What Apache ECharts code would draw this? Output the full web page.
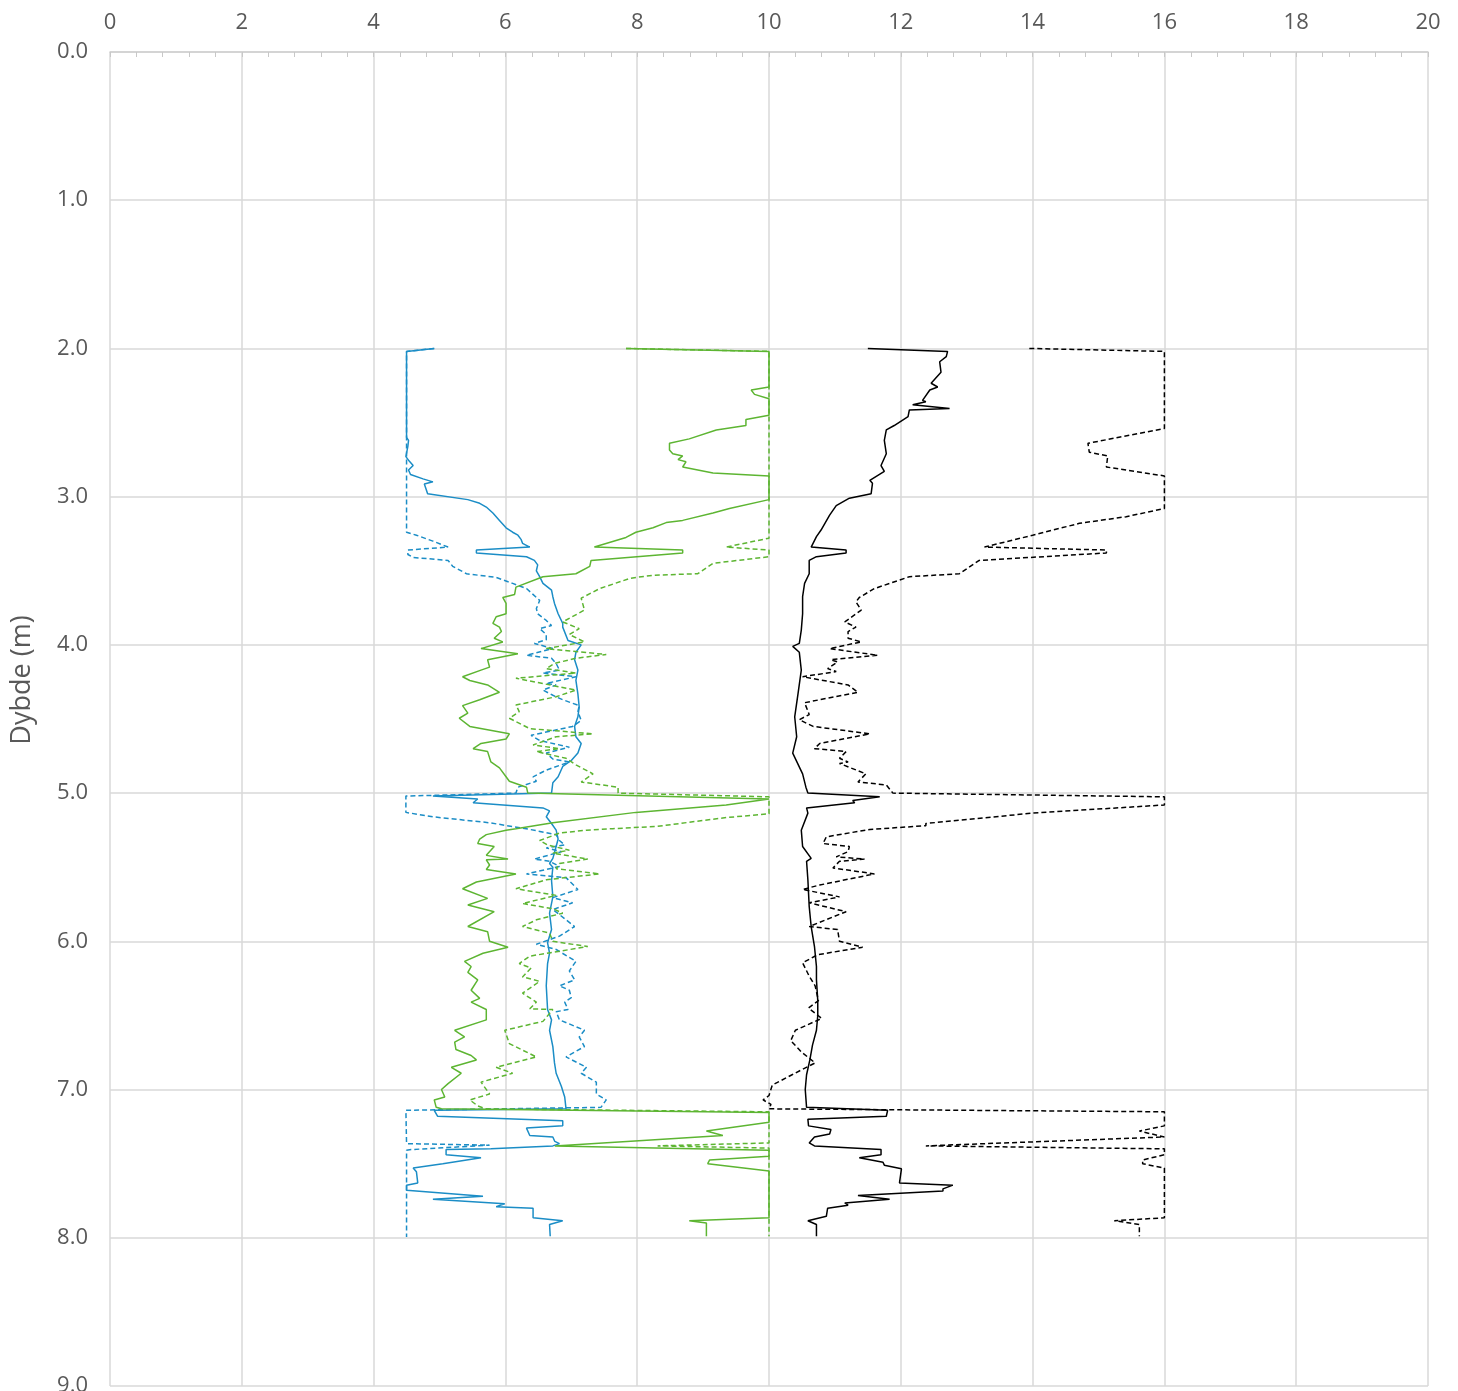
<!DOCTYPE html>
<html>
<head>
<meta charset="utf-8">
<script src="https://cdn.jsdelivr.net/npm/echarts@6/dist/echarts.min.js"></script>
<style>
  html, body { margin: 0; padding: 0; background: #fff; }
  #chart { width: 1458px; height: 1391px; }
</style>
</head>
<body>
<div id="chart"></div>
<script>
// [verdi, dybde] par for hver kurve
var blueSolid = [[4.92,2.00],[4.50,2.02],[4.50,2.60],[4.53,2.62],[4.52,2.66],[4.49,2.73],[4.54,2.76],[4.60,2.79],[4.53,2.82],[4.56,2.85],[4.75,2.88],[4.90,2.90],[4.77,2.915],[4.82,2.98],[4.85,2.99],[5.43,3.02],[5.61,3.045],[5.71,3.07],[5.81,3.11],[5.91,3.16],[6.01,3.21],[6.11,3.24],[6.19,3.26],[6.24,3.29],[6.26,3.315],[6.37,3.34],[5.56,3.36],[5.56,3.38],[6.32,3.405],[6.44,3.43],[6.49,3.46],[6.47,3.50],[6.52,3.54],[6.57,3.585],[6.70,3.63],[6.72,3.675],[6.745,3.72],[6.80,3.79],[6.87,3.855],[6.87,3.88],[6.95,3.97],[7.15,4.00],[7.07,4.05],[7.05,4.10],[7.10,4.17],[7.07,4.24],[7.10,4.33],[7.12,4.42],[7.10,4.485],[7.05,4.55],[7.07,4.62],[7.15,4.665],[7.10,4.73],[7.00,4.78],[6.87,4.82],[6.80,4.89],[6.72,4.93],[6.70,5.00],[4.90,5.02],[5.58,5.04],[5.51,5.065],[6.57,5.10],[6.67,5.12],[6.62,5.16],[6.70,5.205],[6.77,5.25],[6.80,5.31],[6.77,5.36],[6.72,5.44],[6.67,5.475],[6.72,5.50],[6.70,5.59],[6.72,5.70],[6.67,5.81],[6.70,5.92],[6.64,6.01],[6.67,6.08],[6.64,6.15],[6.62,6.30],[6.64,6.46],[6.70,6.53],[6.67,6.60],[6.72,6.71],[6.745,6.82],[6.77,6.89],[6.85,6.98],[6.90,7.05],[6.92,7.13],[4.92,7.14],[4.97,7.18],[6.87,7.21],[6.87,7.245],[6.32,7.26],[6.37,7.31],[6.72,7.32],[6.75,7.35],[6.82,7.365],[6.72,7.38],[5.78,7.40],[5.10,7.405],[5.10,7.44],[5.63,7.46],[5.05,7.50],[4.60,7.53],[4.65,7.555],[4.67,7.63],[4.50,7.645],[4.50,7.68],[5.66,7.72],[4.90,7.74],[5.99,7.77],[5.86,7.79],[6.42,7.80],[6.42,7.865],[6.87,7.885],[6.67,7.91],[6.68,7.99]];

var blueDashed = [[4.92,2.00],[4.50,2.02],[4.50,3.24],[4.65,3.26],[4.90,3.30],[5.13,3.34],[4.52,3.36],[4.52,3.39],[4.60,3.41],[5.13,3.43],[5.20,3.47],[5.41,3.52],[5.86,3.545],[6.11,3.585],[6.32,3.62],[6.52,3.70],[6.47,3.755],[6.49,3.79],[6.62,3.835],[6.70,3.87],[6.52,3.89],[6.62,3.93],[6.62,3.965],[6.44,3.99],[6.72,4.025],[6.32,4.07],[6.70,4.09],[6.77,4.125],[6.82,4.17],[6.57,4.19],[7.07,4.215],[6.62,4.26],[6.77,4.27],[6.57,4.305],[6.72,4.34],[6.87,4.37],[7.12,4.41],[7.10,4.45],[7.15,4.51],[7.02,4.55],[6.39,4.61],[6.52,4.645],[6.97,4.69],[6.62,4.73],[6.72,4.77],[6.97,4.79],[6.62,4.845],[6.42,4.89],[6.47,4.92],[6.19,4.96],[6.16,5.00],[4.49,5.02],[4.49,5.13],[4.90,5.16],[5.76,5.20],[6.37,5.245],[6.77,5.28],[6.82,5.32],[6.90,5.35],[6.62,5.37],[6.85,5.395],[6.44,5.445],[6.67,5.46],[6.82,5.495],[6.32,5.545],[6.92,5.57],[7.10,5.65],[6.72,5.705],[7.02,5.74],[6.72,5.785],[7.05,5.90],[6.82,5.965],[6.47,6.02],[6.77,6.055],[7.07,6.135],[6.97,6.20],[7.05,6.26],[6.82,6.30],[6.97,6.33],[7.00,6.38],[6.90,6.41],[6.95,6.46],[6.77,6.475],[6.82,6.53],[7.20,6.60],[7.12,6.645],[7.20,6.71],[6.92,6.78],[7.23,6.85],[7.15,6.89],[7.38,6.95],[7.38,7.03],[7.53,7.07],[7.45,7.12],[7.43,7.13],[4.49,7.14],[4.50,7.365],[5.76,7.375],[4.57,7.405],[4.50,7.41],[4.50,7.995]];

var greenSolid = [[7.83,2.00],[10,2.02],[10,2.26],[9.73,2.28],[9.78,2.31],[10,2.34],[10,2.45],[9.65,2.48],[9.65,2.52],[9.20,2.55],[8.79,2.61],[8.49,2.64],[8.49,2.685],[8.54,2.71],[8.69,2.725],[8.62,2.75],[8.74,2.765],[8.69,2.80],[9.15,2.84],[10,2.86],[10,3.02],[9.40,3.08],[9.15,3.11],[8.69,3.16],[8.44,3.175],[8.24,3.21],[7.98,3.24],[7.83,3.275],[7.35,3.34],[8.69,3.36],[8.69,3.38],[7.30,3.43],[7.28,3.47],[7.07,3.52],[6.57,3.54],[6.16,3.61],[6.14,3.66],[5.96,3.68],[6.01,3.72],[6.01,3.79],[5.86,3.81],[5.81,3.855],[5.91,3.88],[5.94,3.91],[5.83,3.955],[5.96,3.98],[5.63,4.025],[6.19,4.06],[5.73,4.10],[5.76,4.15],[5.63,4.17],[5.35,4.215],[5.46,4.24],[5.73,4.27],[5.91,4.32],[5.61,4.37],[5.35,4.41],[5.43,4.46],[5.30,4.495],[5.46,4.55],[6.06,4.60],[6.01,4.635],[5.63,4.665],[5.51,4.70],[5.73,4.72],[5.78,4.79],[5.91,4.83],[6.01,4.89],[6.06,4.92],[6.32,4.96],[6.34,5.00],[10,5.04],[9.35,5.08],[7.98,5.13],[6.72,5.20],[6.16,5.24],[6.01,5.25],[5.71,5.28],[5.61,5.31],[5.58,5.34],[5.83,5.36],[5.71,5.42],[6.04,5.445],[5.71,5.45],[5.76,5.485],[5.71,5.515],[6.16,5.545],[5.56,5.60],[5.35,5.645],[5.73,5.71],[5.43,5.755],[5.83,5.80],[5.43,5.90],[5.73,5.935],[5.76,6.00],[6.04,6.04],[5.66,6.08],[5.38,6.135],[5.48,6.17],[5.43,6.21],[5.58,6.26],[5.48,6.33],[5.61,6.385],[5.48,6.41],[5.71,6.46],[5.71,6.53],[5.23,6.60],[5.38,6.645],[5.23,6.68],[5.25,6.73],[5.48,6.77],[5.56,6.80],[5.18,6.85],[5.33,6.89],[5.13,6.96],[5.03,7.00],[5.08,7.05],[4.92,7.07],[4.95,7.12],[5.03,7.13],[10,7.155],[10,7.22],[9.05,7.28],[9.30,7.31],[6.75,7.38],[10,7.41],[10,7.45],[9.10,7.475],[9.07,7.50],[10,7.55],[10,7.865],[8.79,7.885],[9.05,7.90],[9.05,7.99]];

var greenDashed = [[7.83,2.00],[10,2.02],[10,3.28],[9.35,3.34],[10,3.36],[10,3.405],[9.15,3.45],[8.92,3.52],[8.24,3.53],[7.90,3.55],[7.43,3.62],[7.15,3.685],[7.20,3.765],[6.87,3.845],[7.12,3.89],[6.97,3.93],[7.20,3.98],[6.62,4.025],[7.53,4.065],[7.07,4.09],[6.745,4.125],[6.62,4.16],[7.07,4.19],[6.16,4.225],[7.07,4.305],[6.77,4.35],[6.16,4.405],[6.21,4.45],[6.06,4.495],[6.37,4.565],[7.33,4.60],[6.77,4.62],[6.42,4.675],[6.82,4.70],[6.47,4.72],[6.92,4.765],[7.07,4.81],[7.33,4.87],[7.15,4.925],[7.71,4.96],[7.71,5.00],[10,5.025],[10,5.14],[9.35,5.165],[8.29,5.225],[7.63,5.24],[7.23,5.25],[6.82,5.27],[6.52,5.32],[6.64,5.35],[6.97,5.385],[6.72,5.405],[7.25,5.445],[6.82,5.475],[6.77,5.51],[7.43,5.545],[6.62,5.585],[6.16,5.645],[6.77,5.69],[6.26,5.745],[6.72,5.78],[6.87,5.81],[6.47,5.855],[6.26,5.90],[6.67,5.945],[6.72,6.00],[7.25,6.035],[6.37,6.10],[6.21,6.15],[6.39,6.18],[6.26,6.24],[6.52,6.27],[6.26,6.35],[6.47,6.41],[6.37,6.455],[6.72,6.46],[6.57,6.54],[5.99,6.60],[6.06,6.69],[6.47,6.78],[5.86,6.85],[6.11,6.89],[5.63,6.95],[5.76,7.03],[5.46,7.07],[5.58,7.11],[5.70,7.13],[10,7.15],[10,7.36],[8.31,7.38],[10,7.395],[10,7.99]];

var blackSolid = [[11.50,2.00],[12.71,2.02],[12.69,2.055],[12.59,2.09],[12.61,2.16],[12.46,2.235],[12.56,2.26],[12.44,2.28],[12.33,2.35],[12.38,2.36],[12.18,2.38],[12.74,2.405],[12.13,2.415],[12.11,2.46],[11.90,2.52],[11.78,2.55],[11.75,2.62],[11.78,2.71],[11.70,2.79],[11.75,2.83],[11.53,2.89],[11.57,2.91],[11.55,2.98],[11.22,3.01],[11.02,3.06],[10.92,3.125],[10.79,3.225],[10.72,3.27],[10.64,3.34],[11.17,3.36],[11.17,3.38],[10.72,3.405],[10.61,3.43],[10.61,3.52],[10.54,3.585],[10.51,3.675],[10.51,3.79],[10.49,3.90],[10.46,3.99],[10.36,4.01],[10.46,4.05],[10.49,4.17],[10.44,4.33],[10.39,4.485],[10.42,4.62],[10.36,4.73],[10.51,4.87],[10.56,4.96],[10.59,5.00],[11.68,5.025],[11.27,5.05],[11.30,5.065],[10.57,5.10],[10.59,5.135],[10.49,5.25],[10.51,5.36],[10.64,5.44],[10.57,5.46],[10.59,5.585],[10.61,5.765],[10.64,5.90],[10.69,6.035],[10.72,6.17],[10.72,6.26],[10.74,6.40],[10.74,6.50],[10.72,6.60],[10.66,6.70],[10.62,6.80],[10.57,6.90],[10.55,7.00],[10.57,7.12],[11.80,7.14],[11.78,7.18],[10.59,7.20],[10.60,7.245],[10.94,7.27],[10.92,7.30],[10.69,7.32],[10.61,7.36],[10.69,7.38],[11.70,7.405],[11.70,7.44],[11.37,7.46],[11.73,7.49],[11.75,7.51],[12.01,7.535],[11.98,7.63],[12.79,7.645],[12.64,7.67],[12.64,7.685],[11.35,7.715],[11.83,7.74],[11.15,7.765],[11.20,7.78],[10.89,7.80],[10.87,7.855],[10.59,7.885],[10.72,7.91],[10.72,7.99]];

var blackDashed = [[13.95,2.00],[16,2.02],[16,2.54],[14.84,2.64],[14.86,2.70],[15.14,2.725],[15.12,2.80],[16,2.86],[16,3.08],[15.42,3.135],[14.71,3.18],[14.00,3.26],[13.27,3.34],[15.12,3.36],[15.12,3.38],[13.19,3.43],[12.89,3.52],[12.13,3.54],[11.60,3.62],[11.37,3.68],[11.32,3.71],[11.40,3.765],[11.15,3.845],[11.32,3.88],[11.20,3.91],[11.20,3.955],[11.40,3.98],[10.92,4.025],[11.65,4.07],[10.94,4.10],[11.04,4.115],[10.89,4.16],[11.02,4.18],[10.51,4.215],[11.20,4.27],[11.35,4.32],[10.54,4.39],[10.61,4.47],[10.46,4.505],[10.67,4.55],[11.53,4.60],[10.77,4.665],[10.69,4.70],[11.17,4.72],[11.07,4.765],[11.20,4.79],[11.07,4.80],[11.47,4.87],[11.35,4.925],[11.78,4.945],[11.88,5.00],[16,5.025],[16,5.08],[14.00,5.135],[12.38,5.205],[12.38,5.22],[11.53,5.245],[10.87,5.295],[10.82,5.34],[11.22,5.36],[11.20,5.395],[11.02,5.43],[11.45,5.445],[11.07,5.46],[10.97,5.505],[11.60,5.545],[10.77,5.62],[10.51,5.65],[11.07,5.70],[10.61,5.74],[11.17,5.80],[10.61,5.90],[11.04,5.92],[11.07,6.00],[11.42,6.04],[10.74,6.09],[10.51,6.145],[10.61,6.235],[10.70,6.30],[10.75,6.40],[10.60,6.45],[10.80,6.52],[10.40,6.60],[10.33,6.67],[10.50,6.75],[10.70,6.82],[10.35,6.90],[10.05,6.97],[10.00,7.04],[9.91,7.07],[10.03,7.10],[10.00,7.13],[16,7.15],[16,7.245],[15.62,7.28],[16,7.32],[12.38,7.38],[12.38,7.385],[16,7.40],[16,7.44],[15.67,7.475],[15.67,7.50],[16,7.53],[16,7.865],[15.24,7.885],[15.62,7.91],[15.62,7.99]];

var BLUE = '#1b8dc6';
var GREEN = '#5db532';
var BLACK = '#000000';
var DASH = [5, 3];
var FONT = 'Open Sans';

var myChart = echarts.init(document.getElementById('chart'));

function curve(data, color, dashed) {
    return {
        type: 'line',
        data: data,
        showSymbol: false,
        symbol: 'none',
        silent: true,
        lineStyle: { color: color, width: 1.5, type: dashed ? DASH : 'solid' }
    };
}

var option = {
    animation: false,
    backgroundColor: '#fff',
    // outerBoundsMode none: ikke krymp gridet for å få plass til 9.0-etiketten
    grid: { left: 110, right: 30, top: 52, bottom: 5, containLabel: false, outerBoundsMode: 'none' },
    xAxis: {
        type: 'value',
        position: 'top',
        min: 0,
        max: 20,
        interval: 2,
        axisLine: { show: true, lineStyle: { color: '#d0d0d0', width: 1.5 } },
        axisTick: { show: true, inside: true, length: 5, lineStyle: { color: '#c8c8c8' } },
        minorTick: { show: true, splitNumber: 5, length: 5, lineStyle: { color: '#c8c8c8' } },
        splitLine: { show: true, lineStyle: { color: '#d9d9d9', width: 1.5 } },
        axisLabel: { color: '#595959', fontSize: 22, fontFamily: FONT, margin: 18 }
    },
    yAxis: {
        type: 'value',
        inverse: true,
        min: 0,
        max: 9,
        interval: 1,
        axisLine: { show: false },
        axisTick: { show: false },
        splitLine: { show: true, lineStyle: { color: '#d9d9d9', width: 1.5 } },
        axisLabel: {
            color: '#595959', fontSize: 22, fontFamily: FONT, margin: 22,
            formatter: function (v) { return v.toFixed(1); }
        }
    },
    graphic: [{
        type: 'text',
        x: 22,
        y: 680,
        rotation: Math.PI / 2,
        style: {
            text: 'Dybde (m)',
            fill: '#595959',
            font: '27px "' + FONT + '"',
            align: 'center',
            verticalAlign: 'middle'
        }
    }],
    series: [
        curve(blueSolid, BLUE, false),
        curve(blueDashed, BLUE, true),
        curve(greenSolid, GREEN, false),
        curve(greenDashed, GREEN, true),
        curve(blackSolid, BLACK, false),
        curve(blackDashed, BLACK, true)
    ]
};

myChart.setOption(option);
</script>
</body>
</html>
